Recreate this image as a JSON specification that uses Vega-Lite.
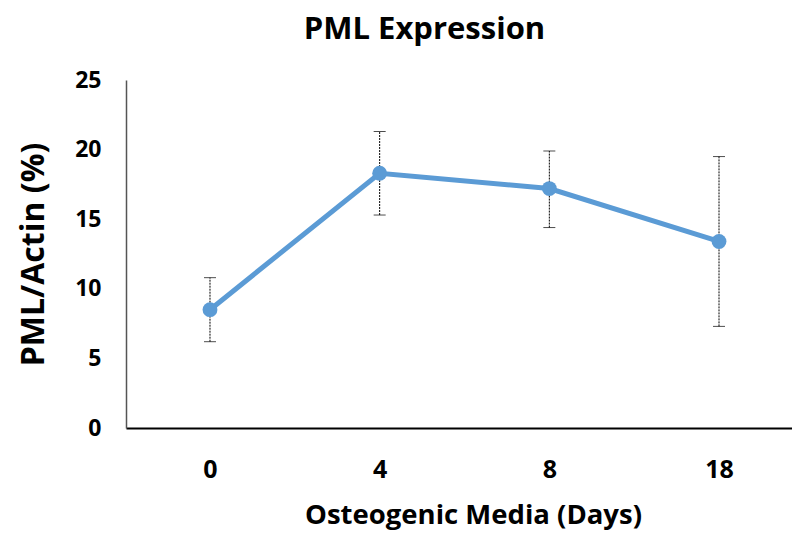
{
  "$schema": "https://vega.github.io/schema/vega-lite/v6.json",
  "autosize": {"type": "none"},
  "width": 677,
  "height": 348,
  "padding": {"left": 126, "top": 80, "right": 0, "bottom": 105},
  "background": "white",
  "title": {"text": "PML Expression", "font": "Open Sans", "fontSize": 31, "fontWeight": "bold", "color": "black", "anchor": "middle", "dx": -40, "offset": 8, "baseline": "middle"},
  "config": {"view": {"stroke": null}, "font": "Open Sans"},
  "data": {"values": [
    {"day": "0", "value": 8.5, "lo": 6.2, "hi": 10.8},
    {"day": "4", "value": 18.3, "lo": 15.3, "hi": 21.3},
    {"day": "8", "value": 17.2, "lo": 14.4, "hi": 19.9},
    {"day": "18", "value": 13.4, "lo": 7.3, "hi": 19.5}
  ]},
  "encoding": {
    "x": {"field": "day", "type": "ordinal", "sort": ["0", "4", "8", "18"],
      "scale": {"type": "point", "padding": 0.495},
      "axis": {"title": "Osteogenic Media (Days)", "labelAngle": 0, "labelFont": "Open Sans", "labelFontSize": 25, "labelFontWeight": "bold", "labelColor": "black", "labelPadding": 29, "ticks": false, "domainColor": "black", "domainWidth": 2, "titleFont": "Open Sans", "titleFontSize": 27.5, "titleFontWeight": "bold", "titleColor": "black", "titlePadding": 19, "titleX": 347, "grid": false}}
  },
  "layer": [
    {"mark": {"type": "rule", "color": "black", "strokeWidth": 1, "strokeDash": [2, 1]},
     "encoding": {"y": {"field": "lo", "type": "quantitative"}, "y2": {"field": "hi"}}},
    {"mark": {"type": "tick", "color": "black", "thickness": 1, "size": 12, "orient": "horizontal", "strokeDash": [2, 1]},
     "encoding": {"y": {"field": "lo", "type": "quantitative"}}},
    {"mark": {"type": "tick", "color": "black", "thickness": 1, "size": 12, "orient": "horizontal", "strokeDash": [2, 1]},
     "encoding": {"y": {"field": "hi", "type": "quantitative"}}},
    {"mark": {"type": "line", "color": "#5B9BD5", "strokeWidth": 5, "point": {"filled": true, "size": 220, "color": "#5B9BD5", "opacity": 1}},
     "encoding": {"y": {"field": "value", "type": "quantitative",
       "scale": {"domain": [0, 25], "nice": false},
       "axis": {"title": "PML/Actin (%)", "values": [0, 5, 10, 15, 20, 25], "labelFont": "Open Sans", "labelFontSize": 23, "labelFontWeight": "bold", "labelColor": "black", "labelPadding": 25, "ticks": false, "grid": false, "domainColor": "#555555", "domainWidth": 1.5, "titleFont": "Open Sans", "titleFontSize": 32, "titleFontWeight": "bold", "titleColor": "black", "titlePadding": 24}}}}
  ]
}
